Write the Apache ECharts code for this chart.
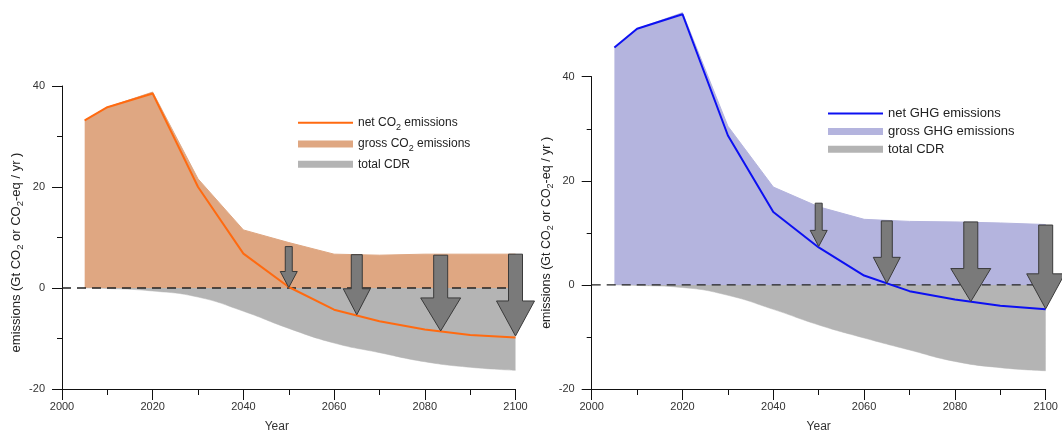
<!DOCTYPE html>
<html><head><meta charset="utf-8">
<script src="https://cdn.jsdelivr.net/npm/echarts@6/dist/echarts.min.js"></script>
<style>html,body{margin:0;padding:0;background:#fff}#c{width:1062px;height:438px}</style>
</head><body><div id="c"></div>
<script>
// ---- data ----
const years = [2005, 2010, 2020, 2030, 2040, 2050, 2060, 2070, 2080, 2090, 2100];
const co2Net   = [33.2, 35.8, 38.5, 20.0, 6.8, 0.2, -4.3, -6.6, -8.2, -9.3, -9.8];
const co2Gross = [33.2, 35.8, 38.8, 21.6, 11.5, 9.0, 6.7, 6.5, 6.7, 6.7, 6.7];
const co2Cdr   = [0, -0.1, -0.6, -1.8, -4.6, -8.0, -10.9, -12.8, -14.6, -15.7, -16.3];
const ghgNet   = [45.6, 49.2, 52.0, 28.7, 14.0, 7.2, 1.8, -1.2, -2.8, -4.0, -4.7];
const ghgGross = [45.6, 49.2, 52.3, 30.5, 18.8, 15.0, 12.6, 12.2, 12.1, 11.9, 11.6];
const ghgCdr   = [0, -0.1, -0.5, -2.0, -4.7, -7.7, -10.2, -12.5, -14.7, -15.9, -16.5];
const arrowYears  = [2050, 2065, 2083.5, 2100];
const co2ArrowTop = [8.2, 6.6, 6.5, 6.7];
const co2ArrowTip = [0.1, -5.3, -8.5, -9.5];
const ghgArrowTop = [15.7, 12.3, 12.1, 11.5];
const ghgArrowTip = [7.4, 0.3, -3.2, -4.6];
const zeroLine = [[2000, 0], [2100, 0]];
const legendCO2 = ['net CO2 emissions', 'gross CO2 emissions', 'total CDR'];
const legendGHG = ['net GHG emissions', 'gross GHG emissions', 'total CDR'];
const yAxisTitle = 'emissions (Gt CO2 or CO2-eq / yr )';
const xAxisTitle = 'Year';

// ---- styles ----
const ORANGE = '#ff6a10', ORANGE_FILL = '#dfa782';
const BLUE = '#0c10f2', BLUE_FILL = '#b4b4de';
const GREY = '#b4b4b4';
const FONT = 'Liberation Sans, Arial, sans-serif';
const arrowShaft = [7, 11, 14, 14];
const arrowHeadW = [17, 27, 40, 38];
const arrowHeadH = [16, 26, 33, 35];
const LINE_ICON = 'path://M0,0 M0,2.5 L55,2.5 L55,4.5 L0,4.5 Z M55,7';

const pair = (xs, ys) => xs.map((x, i) => [x, ys[i]]);
function sub(text, n, s) {
  // converts "CO2" to rich text with subscript 2
  return text.split(/(CO2)/).filter(t => t.length).map(t =>
    t === 'CO2' ? '{' + n + '|CO}{' + s + '|2}' : '{' + n + '|' + t + '}').join('');
}

function arrowRender(params, api) {
  const i = params.dataIndex;
  const top = api.coord([api.value(0), api.value(1)]);
  const tip = api.coord([api.value(0), api.value(2)]);
  const x = top[0];
  const sw = arrowShaft[i] / 2, hw = arrowHeadW[i] / 2;
  const hy = tip[1] - arrowHeadH[i];
  return {
    type: 'polygon',
    shape: { points: [[x - sw, top[1]], [x + sw, top[1]], [x + sw, hy], [x + hw, hy], [x, tip[1]], [x - hw, hy], [x - sw, hy]] },
    style: { fill: '#7a7a7a', stroke: '#3a3a3a', lineWidth: 1 }
  };
}

function axes(gi, nameGapY, namePadY, namePadX, nameFs) {
  const x = {
    type: 'value', gridIndex: gi, min: 2000, max: 2100, interval: 20,
    name: xAxisTitle, nameLocation: 'middle', nameGap: 32,
    nameTextStyle: { fontFamily: FONT, fontSize: 12, color: '#333', padding: namePadX },
    axisLine: { onZero: false, lineStyle: { color: '#111', width: 1 } },
    axisTick: { length: 11, lineStyle: { color: '#111' } },
    minorTick: { show: true, splitNumber: 2, length: 6, lineStyle: { color: '#111' } },
    splitLine: { show: false },
    axisLabel: { fontFamily: FONT, fontSize: 11, color: '#333', margin: 12, formatter: v => String(v) }
  };
  const y = {
    type: 'value', gridIndex: gi, min: -20, max: 40, interval: 20,
    name: sub(yAxisTitle, 'n', 's'), nameLocation: 'middle', nameRotate: 90, nameGap: nameGapY,
    nameTextStyle: {
      padding: namePadY,
      rich: {
        n: { fontFamily: FONT, fontSize: nameFs, color: '#222', lineHeight: 16, verticalAlign: 'middle' },
        s: { fontFamily: FONT, fontSize: nameFs - 3.5, color: '#222', lineHeight: 9, verticalAlign: 'top', padding: [7, 0, 0, 0] }
      }
    },
    axisLine: { onZero: false, lineStyle: { color: '#111', width: 1 } },
    axisTick: { length: 10, lineStyle: { color: '#111' } },
    minorTick: { show: true, splitNumber: 2, length: 5, lineStyle: { color: '#111' } },
    splitLine: { show: false },
    axisLabel: { fontFamily: FONT, fontSize: 11, color: '#333', margin: 17 }
  };
  return [x, y];
}

function panelSeries(gi, net, gross, cdr, top, tip, lineC, fillC, names) {
  return [
    { name: names[1], type: 'line', xAxisIndex: gi, yAxisIndex: gi, data: pair(years, gross), symbol: 'none', clip: false,
      itemStyle: { color: fillC }, lineStyle: { color: fillC, width: 1 }, areaStyle: { color: fillC, opacity: 1 }, z: 1, silent: true },
    { name: names[2], type: 'line', xAxisIndex: gi, yAxisIndex: gi, data: pair(years, cdr), symbol: 'none', smooth: 0.5, clip: false,
      itemStyle: { color: GREY }, lineStyle: { color: GREY, width: 0.5 }, areaStyle: { color: GREY, opacity: 1 }, z: 1, silent: true },
    { type: 'line', xAxisIndex: gi, yAxisIndex: gi, data: zeroLine, symbol: 'none', clip: false,
      lineStyle: { color: '#222', width: 1.3, type: [9, 6] }, z: 3, silent: true },
    { name: names[0], type: 'line', xAxisIndex: gi, yAxisIndex: gi, data: pair(years, net), symbol: 'none', clip: false,
      itemStyle: { color: lineC }, lineStyle: { color: lineC, width: 2 }, z: 4, silent: true },
    { type: 'custom', xAxisIndex: gi, yAxisIndex: gi, renderItem: arrowRender, clip: false, z: 5, silent: true,
      encode: { x: 0, y: [1, 2] },
      data: arrowYears.map((yr, i) => [yr, top[i], tip[i]]) }
  ];
}

function legend(left, top, names, lineC, fillC, fs, gap) {
  return {
    orient: 'vertical', left: left, top: top, padding: 0, itemWidth: 55, itemHeight: 7, itemGap: gap,
    selectedMode: false,
    data: [
      { name: names[0], icon: LINE_ICON, itemStyle: { color: lineC, borderWidth: 0 } },
      { name: names[1], icon: 'rect', itemStyle: { color: fillC, borderWidth: 0 } },
      { name: names[2], icon: 'rect', itemStyle: { color: GREY, borderWidth: 0 } }
    ],
    formatter: nm => sub(nm, 'n', 's'),
    textStyle: {
      rich: {
        n: { fontFamily: FONT, fontSize: fs, color: '#222', lineHeight: 14, verticalAlign: 'middle' },
        s: { fontFamily: FONT, fontSize: fs - 3, color: '#222', lineHeight: 8, verticalAlign: 'top', padding: [7, 0, 0, 0] }
      }
    }
  };
}

const [x0, y0] = axes(0, 36, [0, 30, 0, 0], [0, 24, 0, 0], 13);
const [x1, y1] = axes(1, 35, [0, 0, 0, 0], [0, 0, 0, 0], 12.5);

const chart = echarts.init(document.getElementById('c'), null, { renderer: 'canvas' });
chart.setOption({
  animation: false,
  backgroundColor: '#fff',
  grid: [
    { left: 62, right: 546.5, top: 86, bottom: 40.7 },
    { left: 591.7, right: 16.3, top: 76.7, bottom: 43 }
  ],
  xAxis: [x0, x1],
  yAxis: [y0, y1],
  legend: [
    legend(298, 115.7, legendCO2, ORANGE, ORANGE_FILL, 12, 5.3),
    legend(828, 107, legendGHG, BLUE, BLUE_FILL, 13, 4.9)
  ],
  series: [].concat(
    panelSeries(0, co2Net, co2Gross, co2Cdr, co2ArrowTop, co2ArrowTip, ORANGE, ORANGE_FILL, legendCO2),
    panelSeries(1, ghgNet, ghgGross, ghgCdr, ghgArrowTop, ghgArrowTip, BLUE, BLUE_FILL, legendGHG)
  )
});
</script>
</body></html>
